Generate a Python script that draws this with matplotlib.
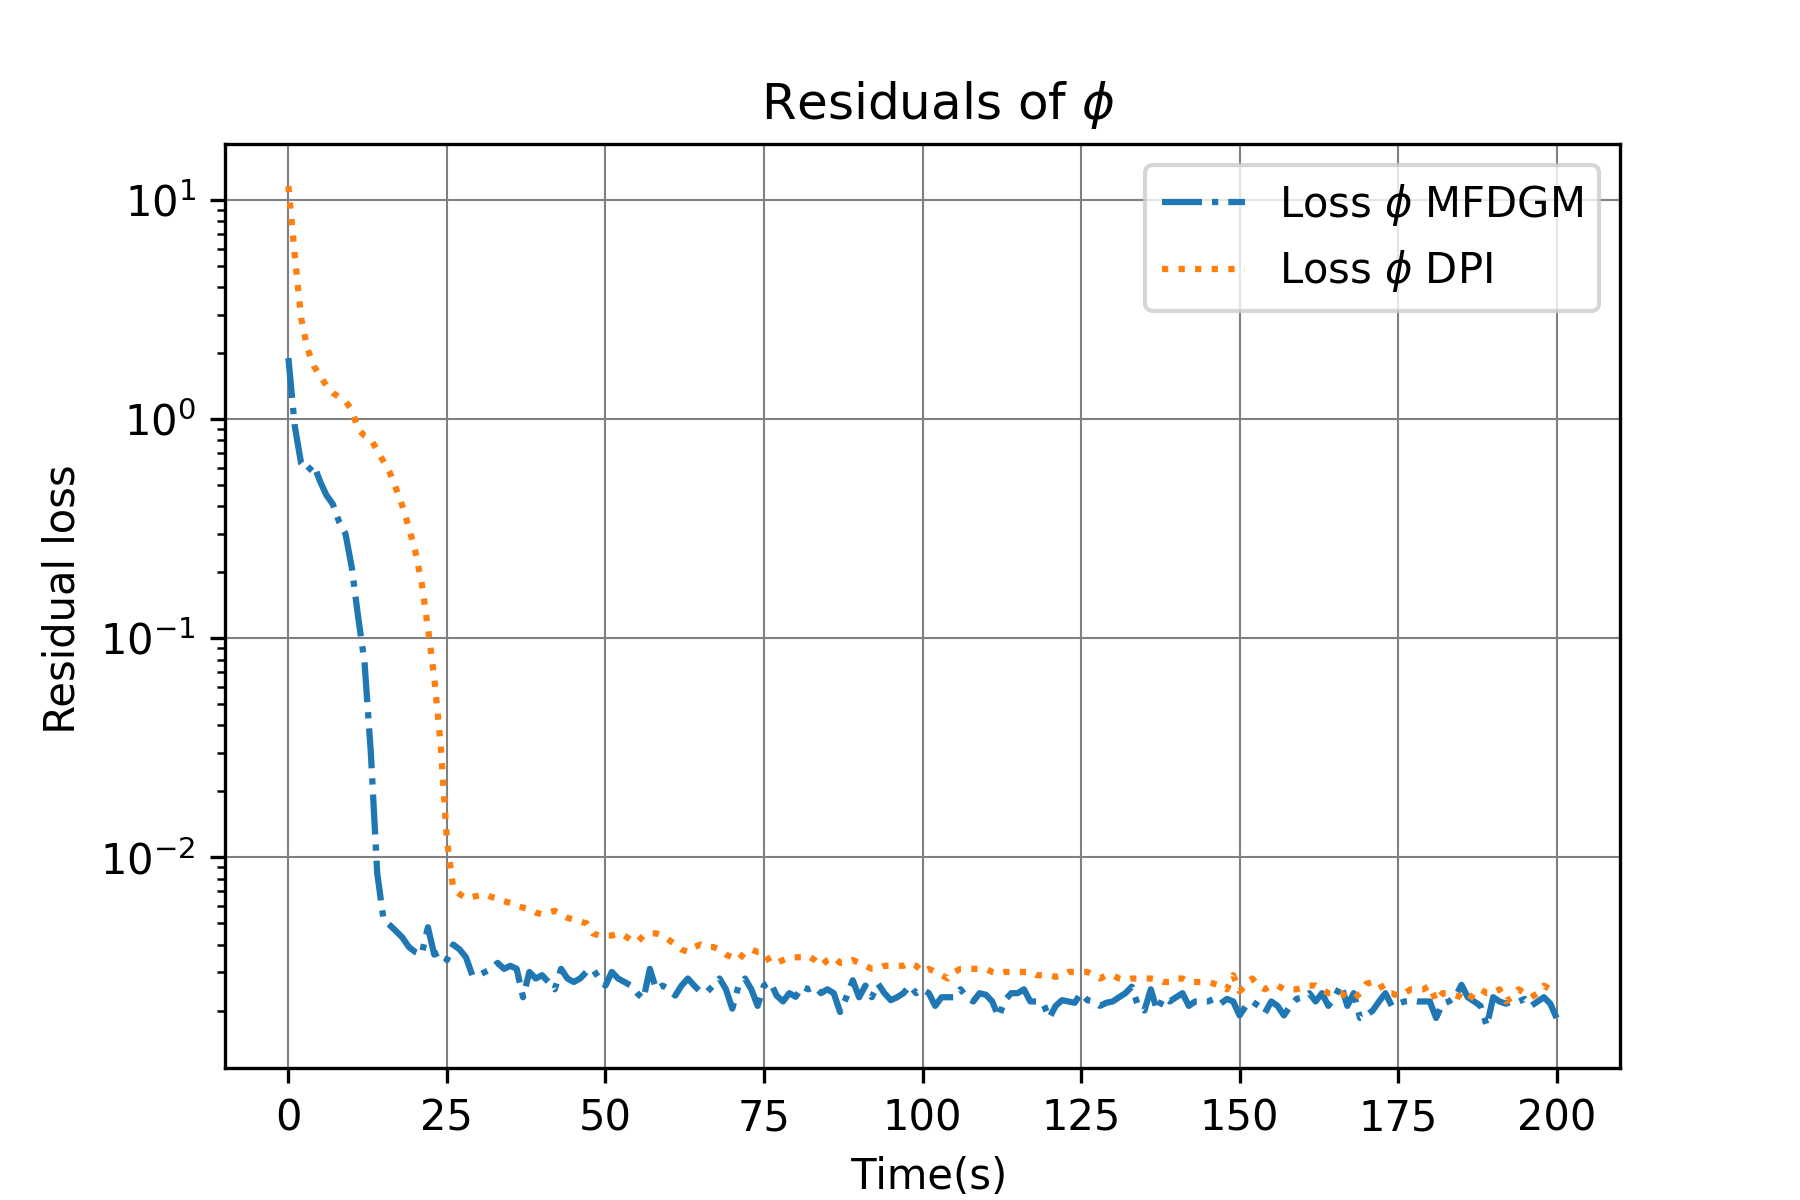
import numpy as np
import matplotlib
matplotlib.use('Agg')
import matplotlib.pyplot as plt

# time steps (s), one sample per second
time = np.arange(0, 201)

loss_mfdgm = [
    1.9, 0.93, 0.63, 0.58, 0.62, 0.52, 0.45, 0.41, 0.34, 0.30,
    0.21, 0.125, 0.078, 0.030, 0.0085, 0.0052, 0.0049, 0.0046, 0.0043, 0.0039,
    0.0037, 0.0036, 0.0048, 0.0036, 0.0037, 0.0034, 0.0040, 0.0038, 0.0035, 0.0029,
    0.0029, 0.0030, 0.0031, 0.0033, 0.0031, 0.0032, 0.0031, 0.0023, 0.0030, 0.0028,
    0.0029, 0.0027, 0.0025, 0.0031, 0.0028, 0.0027, 0.0028, 0.0030, 0.0031, 0.0028,
    0.0026, 0.0030, 0.0028, 0.0027, 0.0026, 0.0024, 0.00226, 0.0031, 0.0025, 0.0026,
    0.0025, 0.00234, 0.0026, 0.0028, 0.0026, 0.00243, 0.00243, 0.0026, 0.0028, 0.0025,
    0.00204, 0.0026, 0.0028, 0.0025, 0.0021, 0.0026, 0.0027, 0.00234, 0.0022, 0.0024,
    0.00231, 0.00257, 0.0025, 0.00257, 0.0024, 0.0025, 0.0024, 0.00197, 0.0023, 0.00275,
    0.0023, 0.0026, 0.0023, 0.00265, 0.0024, 0.00223, 0.0023, 0.0024, 0.0026, 0.0024,
    0.0025, 0.0024, 0.0021, 0.0023, 0.0023, 0.0023, 0.0025, 0.0023, 0.0022, 0.0024,
    0.00236, 0.0022, 0.00187, 0.00223, 0.0024, 0.0024, 0.0025, 0.0022, 0.0022, 0.00217,
    0.00185, 0.0021, 0.00223, 0.0022, 0.00217, 0.0024, 0.00223, 0.0022, 0.0021, 0.00217,
    0.0022, 0.0023, 0.0024, 0.00257, 0.0021, 0.0020, 0.0025, 0.0020, 0.0023, 0.0022,
    0.0023, 0.0024, 0.0021, 0.0022, 0.0022, 0.0022, 0.00226, 0.00215, 0.00226, 0.0022,
    0.0019, 0.0021, 0.0022, 0.0021, 0.00195, 0.0022, 0.0021, 0.0019, 0.0021, 0.00226,
    0.0023, 0.0024, 0.0022, 0.0024, 0.0021, 0.0023, 0.00262, 0.0021, 0.0024, 0.00185,
    0.0019, 0.0020, 0.0022, 0.0024, 0.0021, 0.00215, 0.0022, 0.00222, 0.0022, 0.0022,
    0.0022, 0.00185, 0.00215, 0.0022, 0.0023, 0.00262, 0.0023, 0.0022, 0.0021, 0.0017,
    0.0023, 0.0022, 0.00215, 0.0022, 0.0022, 0.00226, 0.0021, 0.0022, 0.0023, 0.00215,
    0.00185,
]

loss_dpi = [
    11.6, 5.6, 2.9, 2.1, 1.75, 1.58, 1.42, 1.32, 1.26, 1.21,
    1.10, 0.90, 0.84, 0.81, 0.72, 0.64, 0.57, 0.48, 0.40, 0.32,
    0.25, 0.18, 0.112, 0.066, 0.033, 0.012, 0.0072, 0.0068, 0.0065, 0.0066,
    0.0067, 0.0068, 0.0066, 0.0065, 0.0063, 0.0062, 0.0060, 0.0059, 0.0058, 0.0056,
    0.0055, 0.0056, 0.0057, 0.0055, 0.0053, 0.0052, 0.0051, 0.0050, 0.0045, 0.0044,
    0.0044, 0.0044, 0.0045, 0.0044, 0.0042, 0.0041, 0.0044, 0.0045, 0.0045, 0.0044,
    0.0042, 0.0040, 0.0038, 0.0037, 0.0039, 0.0040, 0.0039, 0.0039, 0.0038, 0.0036,
    0.0035, 0.0034, 0.0037, 0.0038, 0.0037, 0.0037, 0.0033, 0.0033, 0.0034, 0.0035,
    0.0035, 0.0035, 0.00355, 0.0034, 0.0032, 0.0034, 0.0035, 0.0033, 0.0033, 0.0034,
    0.0033, 0.0032, 0.0031, 0.0031, 0.0032, 0.0032, 0.0032, 0.0032, 0.0033, 0.0032,
    0.0030, 0.0031, 0.0030, 0.0029, 0.0028, 0.0030, 0.0031, 0.0031, 0.0031, 0.0031,
    0.0031, 0.0030, 0.00295, 0.0030, 0.0030, 0.0030, 0.0030, 0.0030, 0.0029, 0.0029,
    0.0029, 0.00285, 0.0029, 0.0030, 0.0030, 0.0030, 0.0030, 0.0029, 0.0028, 0.0029,
    0.0029, 0.0028, 0.00275, 0.0028, 0.0028, 0.0028, 0.0028, 0.00277, 0.0027, 0.0027,
    0.0028, 0.0028, 0.0027, 0.0027, 0.0027, 0.0027, 0.00265, 0.0026, 0.0025, 0.0029,
    0.00245, 0.0026, 0.0028, 0.0026, 0.0025, 0.0026, 0.0026, 0.0025, 0.0025, 0.0025,
    0.00255, 0.0026, 0.0026, 0.0025, 0.0024, 0.0024, 0.0024, 0.0023, 0.00226, 0.0024,
    0.00265, 0.0027, 0.0027, 0.0024, 0.0024, 0.00233, 0.0024, 0.0025, 0.0025, 0.0025,
    0.0026, 0.0022, 0.0024, 0.0024, 0.00235, 0.0023, 0.0022, 0.0024, 0.0025, 0.0024,
    0.0024, 0.0025, 0.0022, 0.0023, 0.0025, 0.0024, 0.0023, 0.0024, 0.0026, 0.0025,
    0.0024,
]

fig, ax = plt.subplots(figsize=(6, 4), dpi=300)

ax.plot(time, loss_mfdgm, linestyle='-.', label=r'Loss $\phi$ MFDGM')
ax.plot(time, loss_dpi, linestyle=':', label=r'Loss $\phi$ DPI')
ax.set_yscale('log')

ax.set_xticks(np.arange(0, 201, 25))
ax.grid(True, color='gray', linewidth=0.5)
# labels sit slightly off-centre in the original (leading blanks)
ax.set_title(r'  Residuals of $\phi$')
ax.set_xlabel(' Time(s)')
ax.set_ylabel(' Residual loss')
ax.legend(loc='upper right')

fig.savefig('out.png', dpi=300)
